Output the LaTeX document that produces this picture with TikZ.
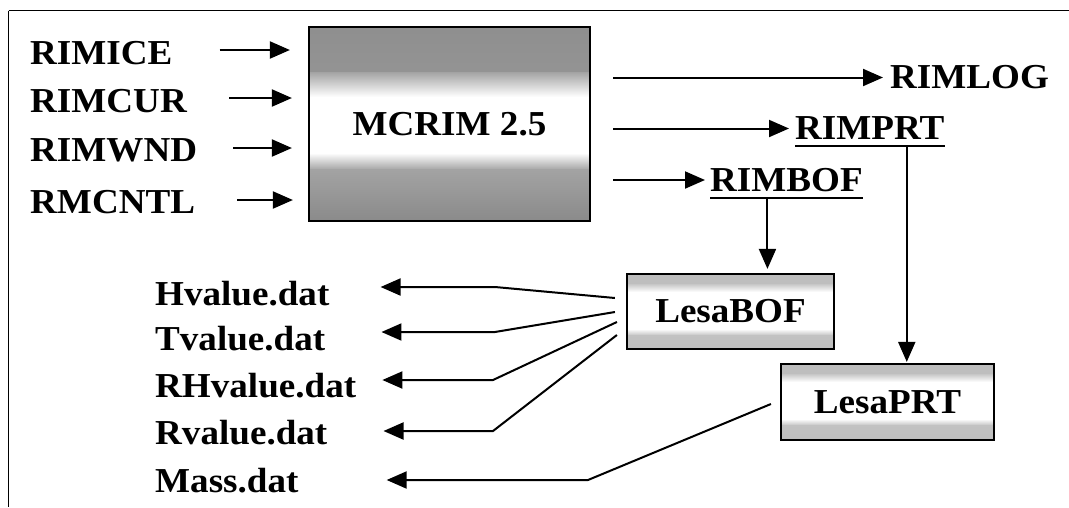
\documentclass[tikz,border=0pt]{standalone}
\usepackage{fontspec}
\setmainfont{Liberation Serif}[FakeStretch=1.06]
\usetikzlibrary{arrows.meta,calc}
\newcommand{\band}[4]{% from, to (pt below top), top colour, bottom colour
  \shade[top color=#3, bottom color=#4]
    ([yshift=-#1]path picture bounding box.north west) rectangle
    ([yshift=-#2]path picture bounding box.north east);}
\tikzset{
  lbl/.style={inner sep=0pt, font=\fontsize{35}{40}\selectfont\bfseries},
  bigbox/.style={lbl, draw, line width=2.2pt, minimum width=281pt, minimum height=194pt,
    path picture={
      \band{0pt}{45pt}{black!44}{black!36}
      \band{45pt}{70pt}{black!36}{white}
      \band{126pt}{142pt}{white}{black!34}
      \band{142pt}{195pt}{black!36}{black!46}
    }},
  smallbox/.style={lbl, draw, line width=2.2pt,
    path picture={
      \band{0pt}{10pt}{black!26}{black!22}
      \band{10pt}{18pt}{black!22}{white}
      \band{55pt}{61pt}{white}{black!22}
      \band{61pt}{80pt}{black!24}{black!26}
    }},
  arr/.style={line width=2pt, -{Triangle[length=20pt,width=17pt]}},
  uline/.style={line width=2.6pt},
  frame/.style={line width=1.5pt}
}
\begin{document}
\begin{tikzpicture}[x=1pt,y=-1pt]
\useasboundingbox (0,0) rectangle (1069,507);
\draw[frame] (8.5,10.5) -- (1069,10.5);
\draw[frame] (8.5,10.5) -- (8.5,507);

% main box
\node[bigbox] (mcrim) at (449.5,124) {MCRIM 2.5};

% inputs
\node[lbl, anchor=west] (rimice) at (30,53) {RIMICE};
\node[lbl, anchor=west] (rimcur) at (30,101) {RIMCUR};
\node[lbl, anchor=west] (rimwnd) at (30,150) {RIMWND};
\node[lbl, anchor=west] (rmcntl) at (30,202) {RMCNTL};

\draw[arr] ([shift={(47,-3)}]rimice.east) -- ([shift={(-18,-3)}]mcrim.west |- rimice.east);
\draw[arr] ([shift={(42,-3)}]rimcur.east) -- ([shift={(-16,-3)}]mcrim.west |- rimcur.east);
\draw[arr] ([shift={(36,-2)}]rimwnd.east) -- ([shift={(-16,-2)}]mcrim.west |- rimwnd.east);
\draw[arr] ([shift={(42,-2)}]rmcntl.east) -- ([shift={(-15,-2)}]mcrim.west |- rmcntl.east);

% outputs
\node[lbl, anchor=west] (rimlog) at (890,77.5) {RIMLOG};
\node[lbl, anchor=west] (rimprt) at (795,128.5) {RIMPRT};
\node[lbl, anchor=west] (rimbof) at (710,180) {RIMBOF};
\draw[uline] ([yshift=-6pt]rimprt.south west) -- ([yshift=-6pt]rimprt.south east);
\draw[uline] ([yshift=-6pt]rimbof.south west) -- ([yshift=-6pt]rimbof.south east);

\draw[arr] ([xshift=22pt]mcrim.east |- rimlog.west) -- ([xshift=-7pt]rimlog.west);
\draw[arr] ([xshift=22pt]mcrim.east |- rimprt.west) -- ([xshift=-6pt]rimprt.west);
\draw[arr] ([xshift=22pt]mcrim.east |- rimbof.west) -- ([xshift=-5pt]rimbof.west);

% Lesa boxes
\node[smallbox, minimum width=207pt, minimum height=75pt] (lesabof) at (730.5,311.5) {LesaBOF};
\node[smallbox, minimum width=213pt, minimum height=76pt] (lesaprt) at (887.5,402) {LesaPRT};

\draw[arr, shorten >=10pt] ([shift={(-19,6)}]rimbof.south) -- ([shift={(-19,6)}]rimbof.south |- lesabof.north);
\draw[arr, shorten >=7pt] ([shift={(37,6)}]rimprt.south) -- ([shift={(37,6)}]rimprt.south |- lesaprt.north);

% data files
\node[lbl, anchor=west] (hval) at (155,294) {Hvalue.dat};
\node[lbl, anchor=west] (tval) at (155,339) {Tvalue.dat};
\node[lbl, anchor=west] (rhval) at (155,386) {RHvalue.dat};
\node[lbl, anchor=west] (rval) at (155,433) {Rvalue.dat};
\node[lbl, anchor=west] (mass) at (155,481) {Mass.dat};

\draw[arr, shorten >=51pt] ([shift={(-11,-13.5)}]lesabof.west) -- (495,287) -- ([yshift=7pt]hval.east);
\draw[arr, shorten >=56pt] ([shift={(-11,0.5)}]lesabof.west) -- (495,332) -- ([yshift=7pt]tval.east);
\draw[arr, shorten >=26pt] ([shift={(-9,10.5)}]lesabof.west) -- (493,380) -- ([yshift=6pt]rhval.east);
\draw[arr, shorten >=56pt] ([shift={(-9,23.5)}]lesabof.west) -- (493,431) -- ([yshift=2pt]rval.east);
\draw[arr, shorten >=88pt] ([shift={(-9,2)}]lesaprt.west) -- (588,480) -- ([yshift=1pt]mass.east);
\end{tikzpicture}
\end{document}
